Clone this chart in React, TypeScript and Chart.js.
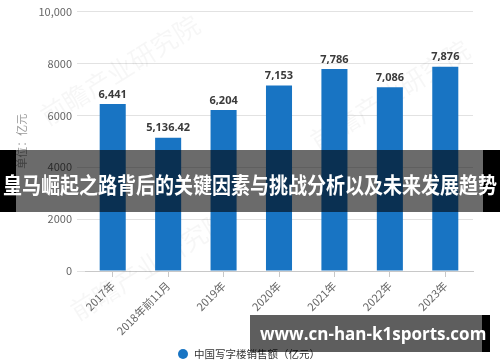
import React, { useEffect, useRef } from "react";
import { Chart, registerables } from "chart.js";

Chart.register(...registerables);

const categories = ["2017年", "2018年前11月", "2019年", "2020年", "2021年", "2022年", "2023年"];
const salesValues = [6441, 5136.42, 6204, 7153, 7786, 7086, 7876];
const valueLabels = ["6,441", "5,136.42", "6,204", "7,153", "7,786", "7,086", "7,876"];
const yTickLabels: Record<number, string> = { 0: "0", 2000: "2000", 4000: "4000", 6000: "6000", 8000: "8000", 10000: "10,000" };
const seriesName = "中国写字楼销售额（亿元）";
const yTitle = "单位：亿元";
const bannerText = "皇马崛起之路背后的关键因素与挑战分析以及未来发展趋势";
const siteText = "www.cn-han-k1sports.com";
const watermarkText = "前瞻产业研究院";

const FONT = '"Noto Sans CJK SC", "Noto Sans", sans-serif';
const BAR_COLOR = "#1874c3";

const valueLabelPlugin = {
  id: "valueLabels",
  afterDatasetsDraw(chart: any) {
    const ctx = chart.ctx;
    const meta = chart.getDatasetMeta(0);
    ctx.save();
    ctx.font = `bold 11px "Noto Sans", "Open Sans", sans-serif`;
    ctx.fillStyle = "#3a3a3a";
    ctx.textAlign = "center";
    ctx.textBaseline = "bottom";
    meta.data.forEach((bar: any, i: number) => {
      ctx.fillText(valueLabels[i], bar.x, bar.y - 4);
    });
    ctx.restore();
  },
};

const legendPlugin = {
  id: "customLegend",
  afterDraw(chart: any) {
    const ctx = chart.ctx;
    const ds = chart.data.datasets[0];
    const cy = 354;
    ctx.save();
    ctx.fillStyle = ds.backgroundColor;
    ctx.beginPath();
    ctx.arc(183, cy, 5, 0, Math.PI * 2);
    ctx.fill();
    ctx.font = `10.5px ${FONT}`;
    ctx.fillStyle = "#333";
    ctx.textAlign = "left";
    ctx.textBaseline = "middle";
    ctx.fillText(ds.label, 194, cy);
    ctx.restore();
  },
};

const watermarkPlugin = {
  id: "watermark",
  beforeDatasetsDraw(chart: any) {
    const ctx = chart.ctx;
    ctx.save();
    ctx.font = `26px ${FONT}`;
    ctx.fillStyle = "rgba(0,0,0,0.035)";
    ctx.textAlign = "center";
    ctx.textBaseline = "middle";
    const spots = [
      [120, 70],
      [390, 95],
      [150, 265],
    ];
    spots.forEach(([x, y]) => {
      ctx.save();
      ctx.translate(x, y);
      ctx.rotate((-32 * Math.PI) / 180);
      ctx.fillText(watermarkText, 0, 0);
      ctx.restore();
    });
    ctx.restore();
  },
};

export default function App() {
  const canvasRef = useRef<HTMLCanvasElement | null>(null);

  useEffect(() => {
    if (!canvasRef.current) return;
    const chart = new Chart(canvasRef.current, {
      type: "bar",
      data: {
        labels: categories,
        datasets: [
          {
            label: seriesName,
            data: salesValues,
            backgroundColor: BAR_COLOR,
            barPercentage: 0.47,
            categoryPercentage: 1,
          },
        ],
      },
      options: {
        responsive: false,
        animation: false,
        layout: { padding: { top: 6, right: 27, left: 0, bottom: 15 } },
        plugins: {
          legend: { display: false },
          tooltip: { enabled: false },
        },
        scales: {
          x: {
            afterFit: (scale: any) => {
              scale.height = 76;
            },
            grid: {
              offset: false,
              drawOnChartArea: false,
              drawTicks: true,
              tickLength: 6,
              color: "#c8c8c8",
            },
            border: { color: "#c8c8c8" },
            ticks: {
              minRotation: 45,
              maxRotation: 45,
              color: "#666",
              padding: 2,
              font: { size: 11, family: FONT },
            },
          },
          y: {
            min: 0,
            max: 10000,
            afterFit: (scale: any) => {
              scale.width = 85;
            },
            grid: { color: "#e2e2e2", tickLength: 8, drawTicks: true },
            border: { display: false },
            ticks: {
              stepSize: 2000,
              padding: 5,
              color: "#666",
              font: { size: 11, family: FONT },
              callback: (v: any) => yTickLabels[v as number] ?? String(v),
            },
            title: {
              display: true,
              text: yTitle,
              color: "#999",
              padding: { top: 15, bottom: 4 },
              font: { size: 11, family: FONT },
            },
          },
        },
      },
      plugins: [watermarkPlugin, valueLabelPlugin, legendPlugin],
    });
    return () => chart.destroy();
  }, []);

  return (
    <div style={{ position: "absolute", left: 0, top: 0, width: 500, height: 362, background: "#fff", overflow: "hidden" }}>
      <canvas ref={canvasRef} width={500} height={362} style={{ display: "block" }} />
      <div style={{ position: "absolute", left: 0, top: 150, width: 500, height: 62, pointerEvents: "none" }}>
        <div style={{ position: "absolute", left: 0, top: 0, width: 16, height: 62, background: "#000" }} />
        <div style={{ position: "absolute", right: 0, top: 0, width: 17, height: 62, background: "#000" }} />
        <div style={{ position: "absolute", left: 16, top: 0, width: 467, height: 62, background: "rgba(0,0,0,0.58)" }} />
        <span
          style={{
            position: "absolute",
            left: 250,
            top: 33,
            color: "#fff",
            fontFamily: FONT,
            fontWeight: 700,
            fontSize: 22,
            lineHeight: "26px",
            whiteSpace: "nowrap",
            display: "block",
            transformOrigin: "center center",
            transform: "translate(-50%, -50%) scaleX(0.864)",
          }}
        >
          {bannerText}
        </span>
      </div>
      <div style={{ position: "absolute", left: 250, top: 315, width: 240, height: 37, pointerEvents: "none" }}>
        <div style={{ position: "absolute", left: 0, top: 0, width: 232, height: 37, background: "rgba(0,0,0,0.63)" }} />
        <div style={{ position: "absolute", left: 232, top: 0, width: 8, height: 37, background: "#000" }} />
        <div
          style={{
            position: "absolute",
            left: 10,
            top: 0,
            height: 37,
            display: "flex",
            alignItems: "center",
            color: "#fff",
            fontFamily: '"Open Sans", sans-serif',
            fontWeight: 700,
            fontSize: 17,
            whiteSpace: "nowrap",
          }}
        >
          {siteText}
        </div>
      </div>
    </div>
  );
}
